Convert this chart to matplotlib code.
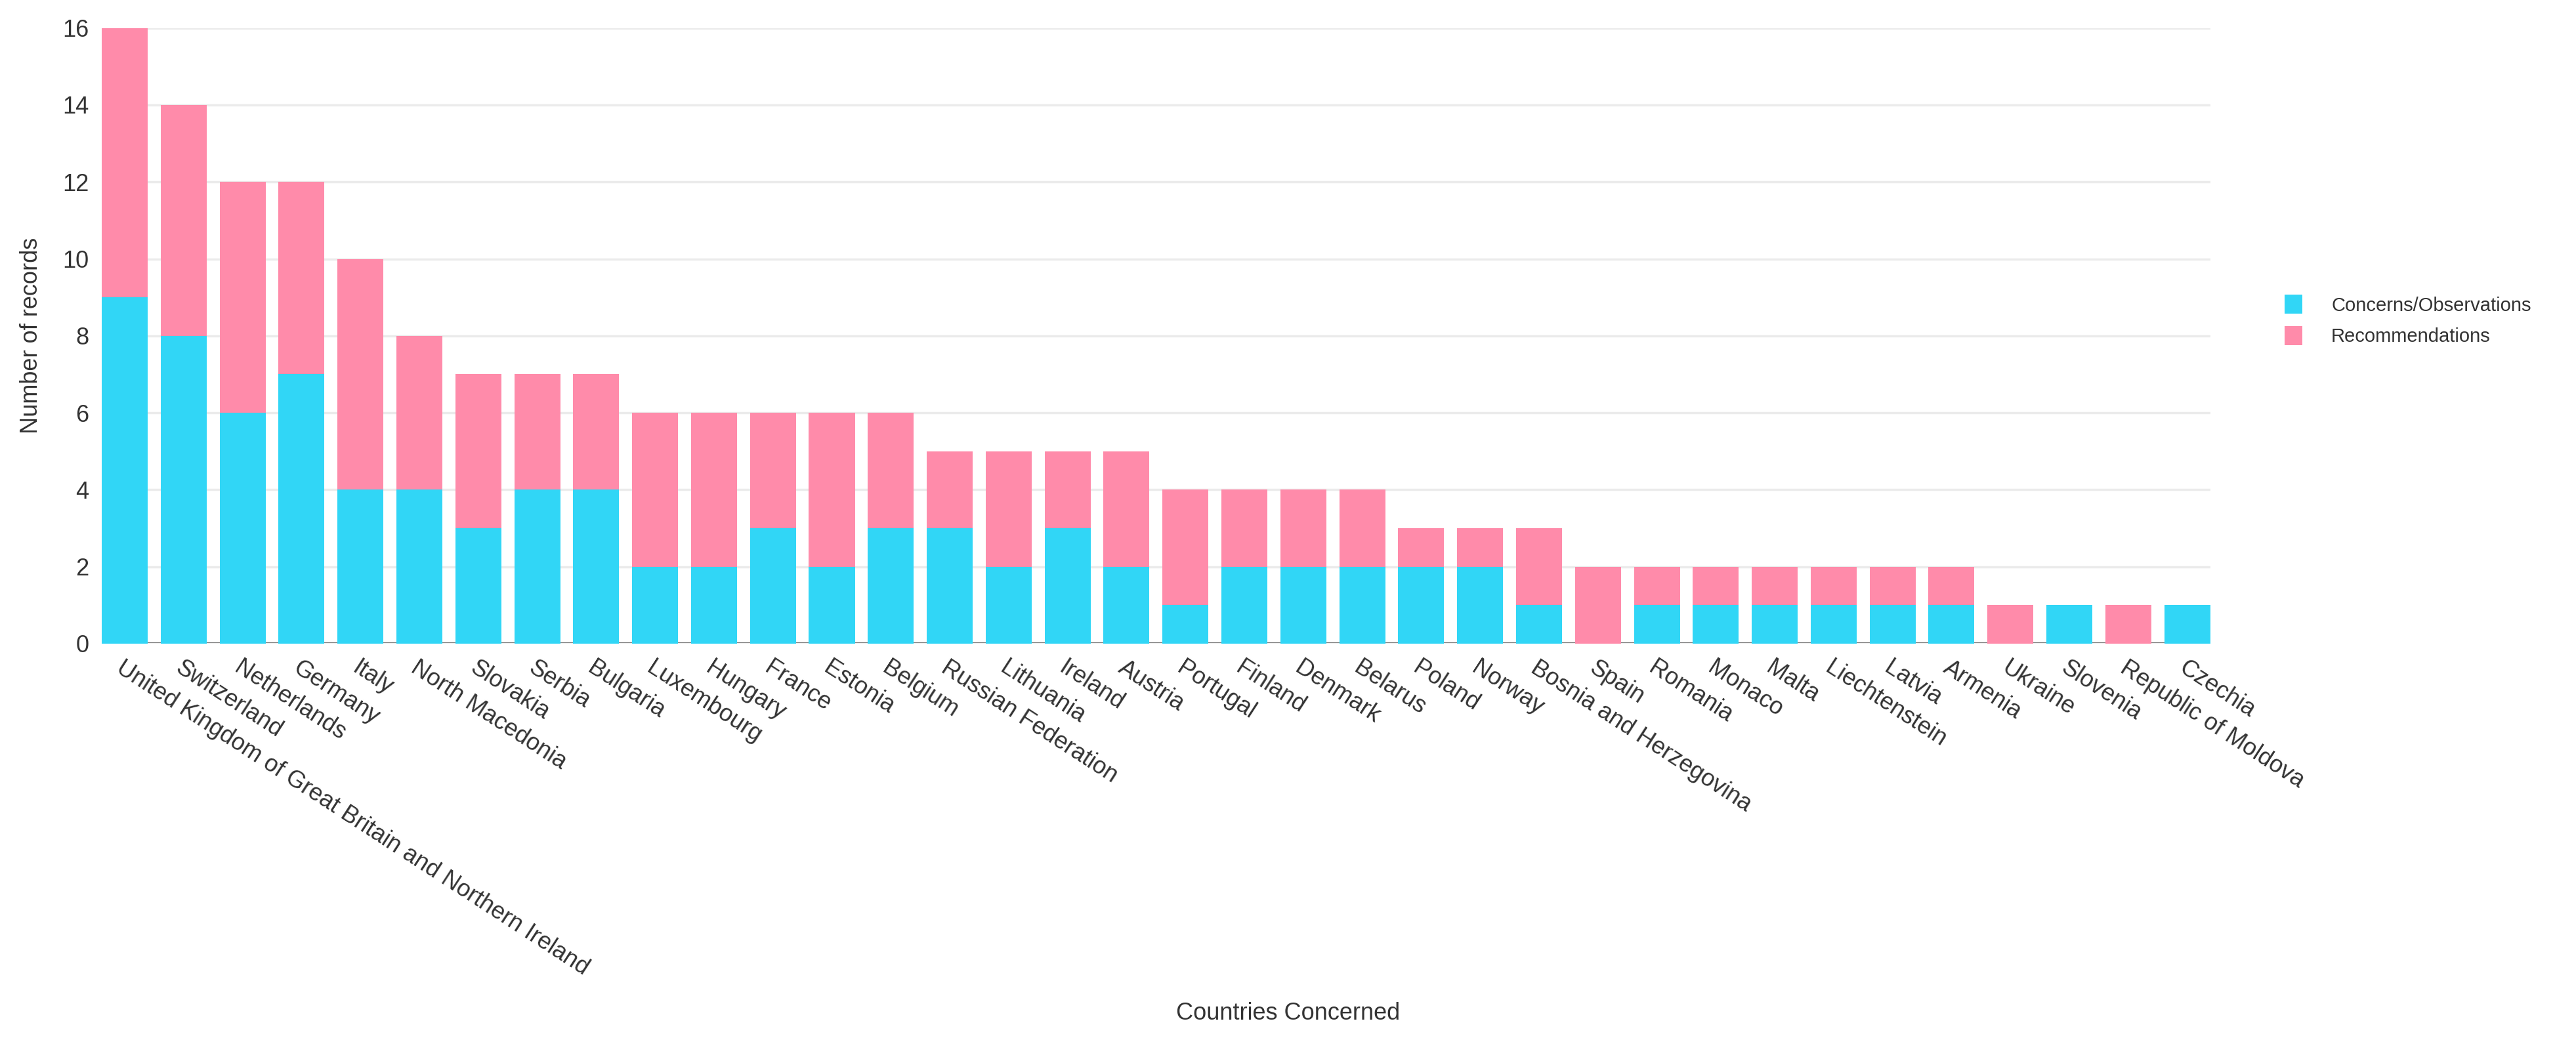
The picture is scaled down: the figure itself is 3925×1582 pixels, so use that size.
"""
Stacked bar chart: records per country, concerns/observations vs recommendations.
"""

import matplotlib.pyplot as plt
import numpy as np

plt.rcParams["font.family"] = ["Liberation Sans", "DejaVu Sans"]

# ---------------------------------------------------------------------------
# Data
# ---------------------------------------------------------------------------

countries = [
    "United Kingdom of Great Britain and Northern Ireland", "Switzerland",
    "Netherlands", "Germany", "Italy", "North Macedonia", "Slovakia", "Serbia",
    "Bulgaria", "Luxembourg", "Hungary", "France", "Estonia", "Belgium",
    "Russian Federation", "Lithuania", "Ireland", "Austria", "Portugal",
    "Finland", "Denmark", "Belarus", "Poland", "Norway",
    "Bosnia and Herzegovina", "Spain", "Romania", "Monaco", "Malta",
    "Liechtenstein", "Latvia", "Armenia", "Ukraine", "Slovenia",
    "Republic of Moldova", "Czechia",
]
concerns = [9, 8, 6, 7, 4, 4, 3, 4, 4, 2, 2, 3, 2, 3, 3, 2, 3, 2, 1, 2, 2, 2,
            2, 2, 1, 0, 1, 1, 1, 1, 1, 1, 0, 1, 0, 1]
recommendations = [7, 6, 6, 5, 6, 4, 4, 3, 3, 4, 4, 3, 4, 3, 2, 3, 2, 3, 3, 2,
                   2, 2, 1, 1, 2, 2, 1, 1, 1, 1, 1, 1, 1, 0, 1, 0]
yticks = [0, 2, 4, 6, 8, 10, 12, 14, 16]

CYAN = "#31D6F6"
PINK = "#FF8BAA"
TEXT = "#333333"

# ---------------------------------------------------------------------------
# Plot
# ---------------------------------------------------------------------------

fig = plt.figure(figsize=(39.25, 15.82), dpi=100)
ax = fig.add_axes([0.0395, 0.38, 0.8185, 0.593])

x = np.arange(len(countries))
width = 0.78
c = np.array(concerns)
r = np.array(recommendations)

ax.bar(x, c, width=width, color=CYAN, label="Concerns/Observations", zorder=3)
ax.bar(x, r, bottom=c, width=width, color=PINK, label="Recommendations", zorder=3)

ax.set_xlim(-width / 2, len(countries) - 1 + width / 2)
ax.set_ylim(0, 16)
ax.set_yticks(yticks)
ax.tick_params(axis="y", length=0, labelsize=26, labelcolor=TEXT, pad=14)
ax.grid(axis="y", color="#EBEBEB", linewidth=2.5, zorder=0)
ax.axhline(0, color="#555555", linewidth=3, zorder=1)

for s in ax.spines.values():
    s.set_visible(False)

ax.set_xticks(x)
ax.set_xticklabels(countries, rotation=-33, ha="left", va="top",
                   rotation_mode="anchor", fontsize=26, color=TEXT)
ax.tick_params(axis="x", length=0, pad=14)

ax.set_ylabel("Number of records", fontsize=26, color=TEXT, labelpad=22)
fig.text(0.5, 0.024, "Countries Concerned", fontsize=26, color=TEXT,
         ha="center", va="center")

ax.legend(loc="center left", bbox_to_anchor=(1.027, 0.525), frameon=False,
          fontsize=21, handlelength=0.95, handleheight=1.15, labelspacing=0.6,
          handletextpad=1.5, labelcolor=TEXT)

fig.savefig("out.png", dpi=100)
plt.close(fig)
